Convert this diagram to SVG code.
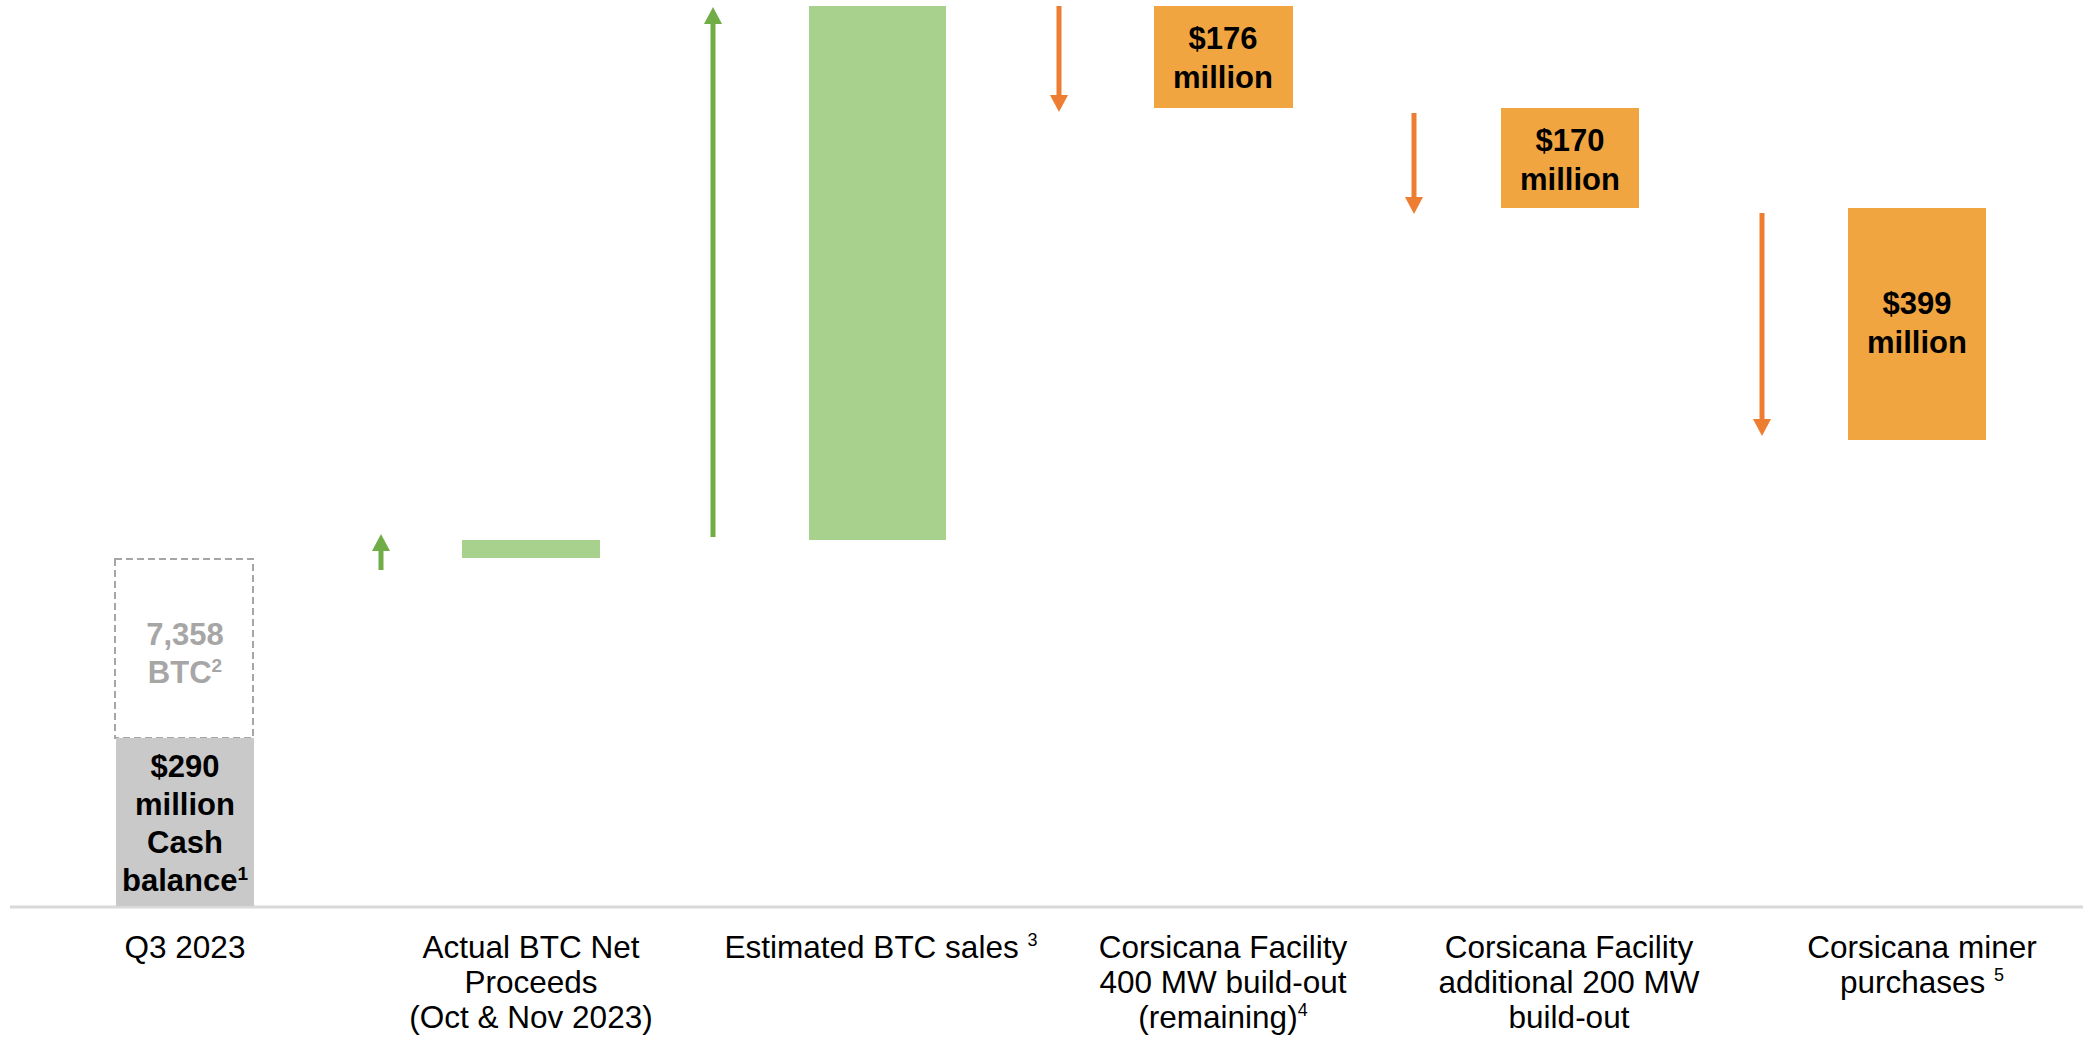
<svg xmlns="http://www.w3.org/2000/svg" width="2083" height="1037" viewBox="0 0 2083 1037">
<style>
.bold{font-family:"Liberation Sans",Arial,sans-serif;font-weight:bold;font-size:31px;text-anchor:middle;fill:#000}
.gray{fill:#a6a6a6}
.lbl{font-family:"Liberation Sans",Arial,sans-serif;font-size:31.5px;text-anchor:middle;fill:#000}
.sup{font-size:19px}
.supl{font-size:18px}
.gbar{fill:#a9d18e}
.obar{fill:#f0a541}
.garr{stroke:#70ad47;stroke-width:5;fill:none}
.oarr{stroke:#ed7d31;stroke-width:5;fill:none}
</style>
<defs>
<marker id="hg" viewBox="0 0 17 18" refX="0" refY="9" markerWidth="17" markerHeight="18" markerUnits="userSpaceOnUse" orient="auto"><path d="M0,0 L17,9 L0,18 Z" fill="#70ad47"/></marker>
<marker id="ho" viewBox="0 0 17 18" refX="0" refY="9" markerWidth="17" markerHeight="18" markerUnits="userSpaceOnUse" orient="auto"><path d="M0,0 L17,9 L0,18 Z" fill="#ed7d31"/></marker>
</defs>
<rect width="2083" height="1037" fill="#fff"/>
<line x1="10" y1="907" x2="2083" y2="907" stroke="#d9d9d9" stroke-width="3"/>

<g id="q3">
<rect x="115" y="559" width="138" height="179" fill="none" stroke="#a6a6a6" stroke-width="2" stroke-dasharray="7 4"/>
<text class="bold gray" x="185" y="645">7,358</text>
<text class="bold gray" x="185" y="683">BTC<tspan class="sup" dy="-11">2</tspan></text>
<rect x="116" y="738" width="138" height="168" fill="#c9c9c9"/>
<text class="bold" x="185" y="777">$290</text>
<text class="bold" x="185" y="815">million</text>
<text class="bold" x="185" y="853">Cash</text>
<text class="bold" x="185" y="891">balance<tspan class="sup" dy="-11">1</tspan></text>
</g>

<g id="actual">
<rect class="gbar" x="462" y="540" width="138" height="18"/>
</g>

<g id="estimated">
<rect class="gbar" x="809" y="6" width="137" height="534"/>
</g>

<g id="build400">
<rect class="obar" x="1154" y="6" width="139" height="102"/>
<text class="bold" x="1223" y="49">$176</text>
<text class="bold" x="1223" y="88">million</text>
</g>

<g id="build200">
<rect class="obar" x="1501" y="108" width="138" height="100"/>
<text class="bold" x="1570" y="151">$170</text>
<text class="bold" x="1570" y="190">million</text>
</g>

<g id="miners">
<rect class="obar" x="1848" y="208" width="138" height="232"/>
<text class="bold" x="1917" y="314">$399</text>
<text class="bold" x="1917" y="353">million</text>
</g>

<g id="connectors">
<line class="garr" x1="381" y1="570" x2="381" y2="551" marker-end="url(#hg)"/>
<line class="garr" x1="713" y1="537" x2="713" y2="24" marker-end="url(#hg)"/>
<line class="oarr" x1="1059" y1="6" x2="1059" y2="95" marker-end="url(#ho)"/>
<line class="oarr" x1="1414" y1="113" x2="1414" y2="197" marker-end="url(#ho)"/>
<line class="oarr" x1="1762" y1="213" x2="1762" y2="419" marker-end="url(#ho)"/>
</g>

<g id="labels">
<text class="lbl" x="185" y="958">Q3 2023</text>
<text class="lbl" x="531" y="958">Actual BTC Net</text>
<text class="lbl" x="531" y="993">Proceeds</text>
<text class="lbl" x="531" y="1028">(Oct &amp; Nov 2023)</text>
<text class="lbl" x="881" y="958">Estimated BTC sales <tspan class="supl" dy="-12">3</tspan></text>
<text class="lbl" x="1223" y="958">Corsicana Facility</text>
<text class="lbl" x="1223" y="993">400 MW build-out</text>
<text class="lbl" x="1223" y="1028">(remaining)<tspan class="supl" dy="-12">4</tspan></text>
<text class="lbl" x="1569" y="958">Corsicana Facility</text>
<text class="lbl" x="1569" y="993">additional 200 MW</text>
<text class="lbl" x="1569" y="1028">build-out</text>
<text class="lbl" x="1922" y="958">Corsicana miner</text>
<text class="lbl" x="1922" y="993">purchases <tspan class="supl" dy="-12">5</tspan></text>
</g>
</svg>
